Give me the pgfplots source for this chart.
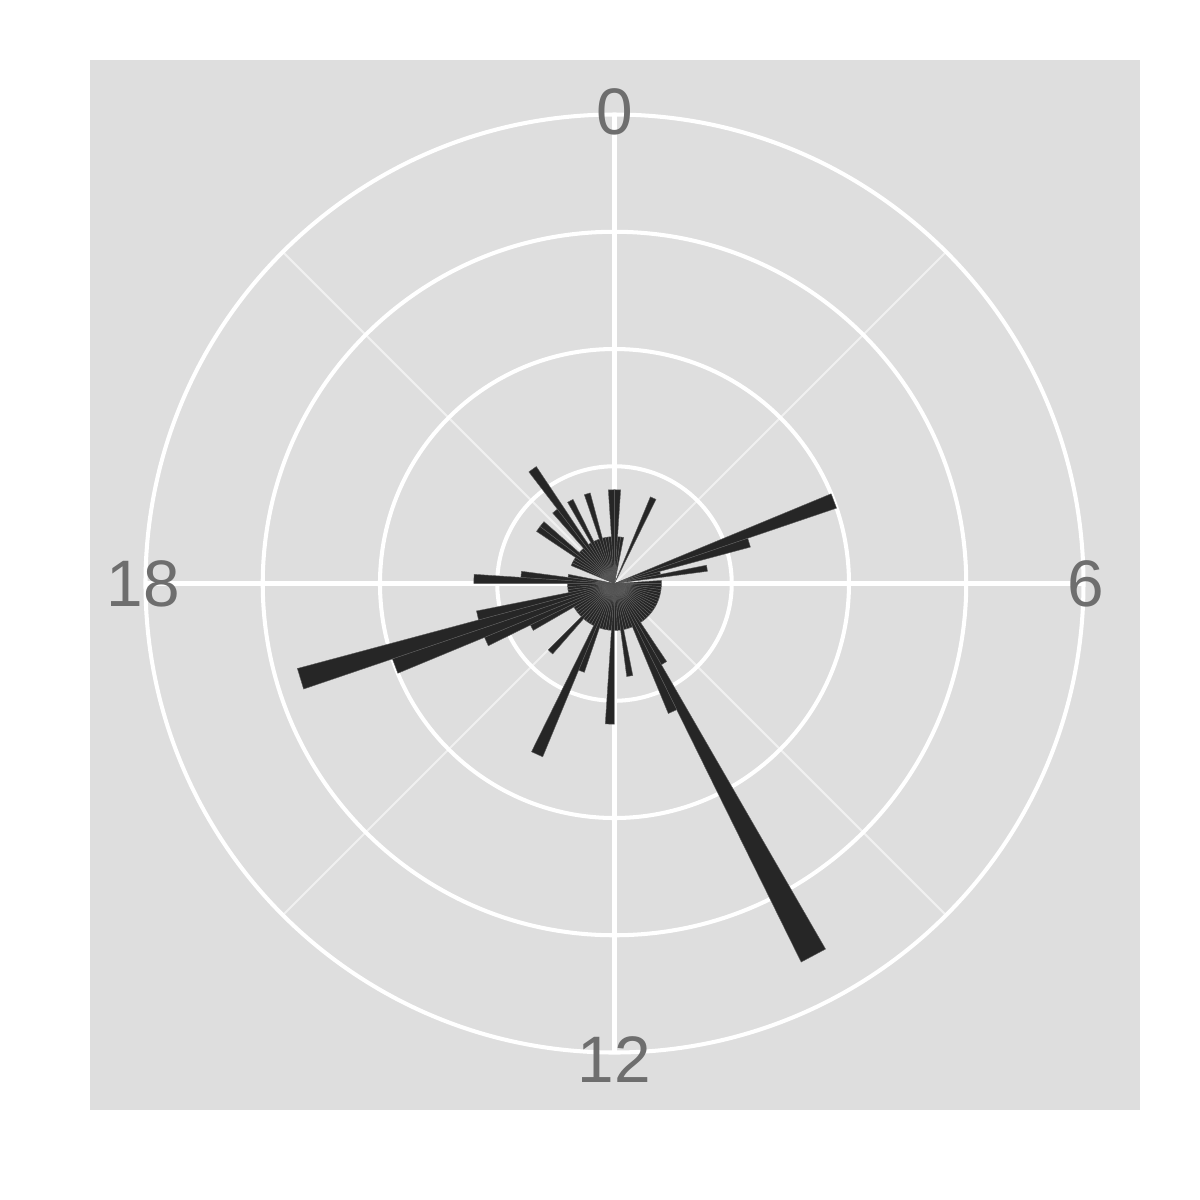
\documentclass[border=0pt]{standalone}
\usepackage{pgfplots}
\pgfplotsset{compat=1.18}
\usepgfplotslibrary{polar}
\usepackage{fontspec}
\setmainfont{Liberation Sans}
\definecolor{panel}{RGB}{222,222,222}
\definecolor{barc}{RGB}{38,38,38}
\definecolor{lab}{RGB}{110,110,110}
% one bar: start hour, end hour, count
\newcommand\B[3]{\addplot[fill=barc, draw=barc!75!white, line width=0.12pt] coordinates {(#1,0) (#1,#3) (#2,#3) (#2,0)} --cycle;}
\begin{document}
\begin{tikzpicture}
\useasboundingbox (-6.145,-6.165) rectangle (5.855,5.835);
\fill[panel] (-5.245,-5.265) rectangle (5.255,5.235);
\begin{polaraxis}[
  at={(0,0)}, anchor=center, scale only axis,
  width=9.38cm, height=9.38cm,
  xmin=0, xmax=360, ymin=0, ymax=10, clip=false,
  xtick={0,90,180,270}, minor xtick={45,135,225,315},
  ytick={2.5,5,7.5,10},
  xticklabels={}, yticklabels={},
  xmajorgrids=true, xminorgrids=true, ymajorgrids=true,
  major grid style={white, line width=1.15pt},
  minor grid style={white!55!panel, line width=0.6pt},
  axis line style={draw=none},
  major tick style={draw=none}, minor tick style={draw=none},
  x filter/.expression={90-15*x},
]
\B{0}{0.25}{2}
\B{0.25}{0.5}{1}
\B{0.5}{0.75}{1}
\B{1.5}{1.75}{2}
\B{4.5}{4.75}{5}
\B{4.75}{5}{3}
\B{5}{5.25}{1}
\B{5.25}{5.5}{2}
\B{5.75}{6}{1}
\B{6}{6.25}{1}
\B{6.25}{6.5}{1}
\B{6.5}{6.75}{1}
\B{6.75}{7}{1}
\B{7}{7.25}{1}
\B{7.25}{7.5}{1}
\B{7.5}{7.75}{1}
\B{7.75}{8}{1}
\B{8}{8.25}{1}
\B{8.25}{8.5}{1}
\B{8.5}{8.75}{1}
\B{8.75}{9}{1}
\B{9}{9.25}{1}
\B{9.25}{9.5}{1}
\B{9.5}{9.75}{1}
\B{9.75}{10}{2}
\B{10}{10.25}{9}
\B{10.25}{10.5}{3}
\B{10.5}{10.75}{1}
\B{10.75}{11}{1}
\B{11}{11.25}{1}
\B{11.25}{11.5}{2}
\B{11.5}{11.75}{1}
\B{11.75}{12}{1}
\B{12}{12.25}{3}
\B{12.25}{12.5}{1}
\B{12.5}{12.75}{1}
\B{12.75}{13}{1}
\B{13}{13.25}{1}
\B{13.25}{13.5}{2}
\B{13.5}{13.75}{4}
\B{13.75}{14}{1}
\B{14}{14.25}{1}
\B{14.25}{14.5}{1}
\B{14.5}{14.75}{1}
\B{14.75}{15}{2}
\B{15}{15.25}{1}
\B{15.25}{15.5}{1}
\B{15.5}{15.75}{1}
\B{15.75}{16}{1}
\B{16}{16.25}{2}
\B{16.25}{16.5}{3}
\B{16.5}{16.75}{5}
\B{16.75}{17}{7}
\B{17}{17.25}{3}
\B{17.25}{17.5}{1}
\B{17.5}{17.75}{1}
\B{17.75}{18}{1}
\B{18}{18.25}{3}
\B{18.25}{18.5}{2}
\B{18.5}{18.75}{1}
\B{19.5}{19.75}{1}
\B{19.75}{20}{1}
\B{20}{20.25}{1}
\B{20.25}{20.5}{2}
\B{20.5}{20.75}{2}
\B{20.75}{21}{1}
\B{21}{21.25}{1}
\B{21.25}{21.5}{2}
\B{21.5}{21.75}{3}
\B{21.75}{22}{1}
\B{22}{22.25}{2}
\B{22.25}{22.5}{1}
\B{22.5}{22.75}{1}
\B{22.75}{23}{2}
\B{23}{23.25}{1}
\B{23.25}{23.5}{1}
\B{23.5}{23.75}{1}
\B{23.75}{24}{2}
\node[text=lab, font=\fontsize{18.7}{22}\selectfont] at (axis cs:90,10.05) {0};
\node[text=lab, font=\fontsize{18.7}{22}\selectfont] at (axis cs:0,10.05) {6};
\node[text=lab, font=\fontsize{18.7}{22}\selectfont] at (axis cs:270,10.15) {12};
\node[text=lab, font=\fontsize{18.7}{22}\selectfont] at (axis cs:180,10.05) {18};
\end{polaraxis}
\end{tikzpicture}
\end{document}
